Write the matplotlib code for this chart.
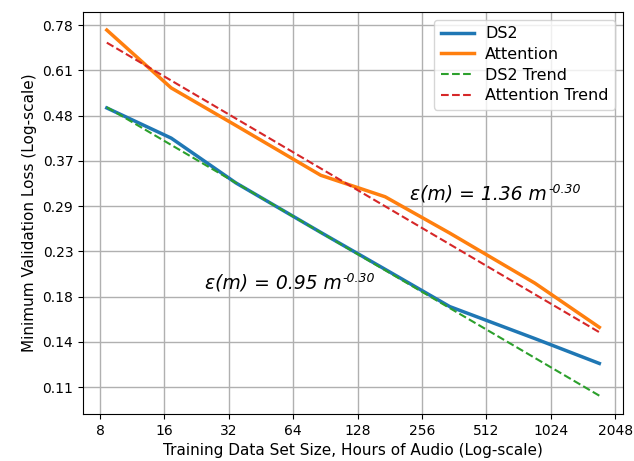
import numpy as np
import matplotlib
matplotlib.use('Agg')
import matplotlib.pyplot as plt

# hours of audio for each training subset
hours = [8.6, 17.2, 34.5, 86, 172, 345, 862, 1725]
ds2_loss = [0.498, 0.423, 0.332, 0.254, 0.208, 0.170, 0.143, 0.125]
att_loss = [0.759, 0.555, 0.453, 0.346, 0.308, 0.253, 0.193, 0.152]

# trend lines (power law fits), read at first and last size
trend_hours = [8.6, 1725]
ds2_trend = [0.500, 0.105]
att_trend = [0.709, 0.148]

xticks = [8, 16, 32, 64, 128, 256, 512, 1024, 2048]
yticks = np.geomspace(0.11, 0.78, 9)

fig = plt.figure(figsize=(6.34, 4.61), dpi=100)
ax = fig.add_axes([0.131, 0.102, 0.852, 0.872])

ax.plot(hours, ds2_loss, color='tab:blue', lw=2.5, label='DS2')
ax.plot(hours, att_loss, color='tab:orange', lw=2.5, label='Attention')
ax.plot(trend_hours, ds2_trend, color='tab:green', lw=1.5, ls='--', label='DS2 Trend')
ax.plot(trend_hours, att_trend, color='tab:red', lw=1.5, ls='--', label='Attention Trend')

ax.set_xscale('log', base=2)
ax.set_yscale('log')
ax.set_xlim(6.66, 2231)
ax.set_ylim(0.0951, 0.837)

ax.set_xticks(xticks)
ax.set_xticklabels([str(t) for t in xticks])
ax.set_yticks(yticks)
ax.set_yticklabels([f'{t:.2f}' for t in yticks])
ax.minorticks_off()

ax.grid(True, color='#b0b0b0', lw=1)
ax.set_axisbelow(True)

ax.set_xlabel('Training Data Set Size, Hours of Audio (Log-scale)', fontsize=11)
ax.set_ylabel('Minimum Validation Loss (Log-scale)', fontsize=11)

# fit equations, exponent drawn as a small raised text after the main one
fits = [(24.7, 0.188, 'ε(m) = 0.95 m'), (226, 0.303, 'ε(m) = 1.36 m')]
for fx, fy, s in fits:
    t = ax.text(fx, fy, s, fontsize=13.5, style='italic')
    ax.annotate('-0.30', xy=(1, 1), xycoords=t, xytext=(0.5, 1),
                textcoords='offset points', fontsize=9, style='italic',
                ha='left', va='top')

ax.legend(loc='upper right', fontsize=11.5, labelspacing=0.35,
          handlelength=2.1, handletextpad=0.7)

plt.savefig('out.png')
